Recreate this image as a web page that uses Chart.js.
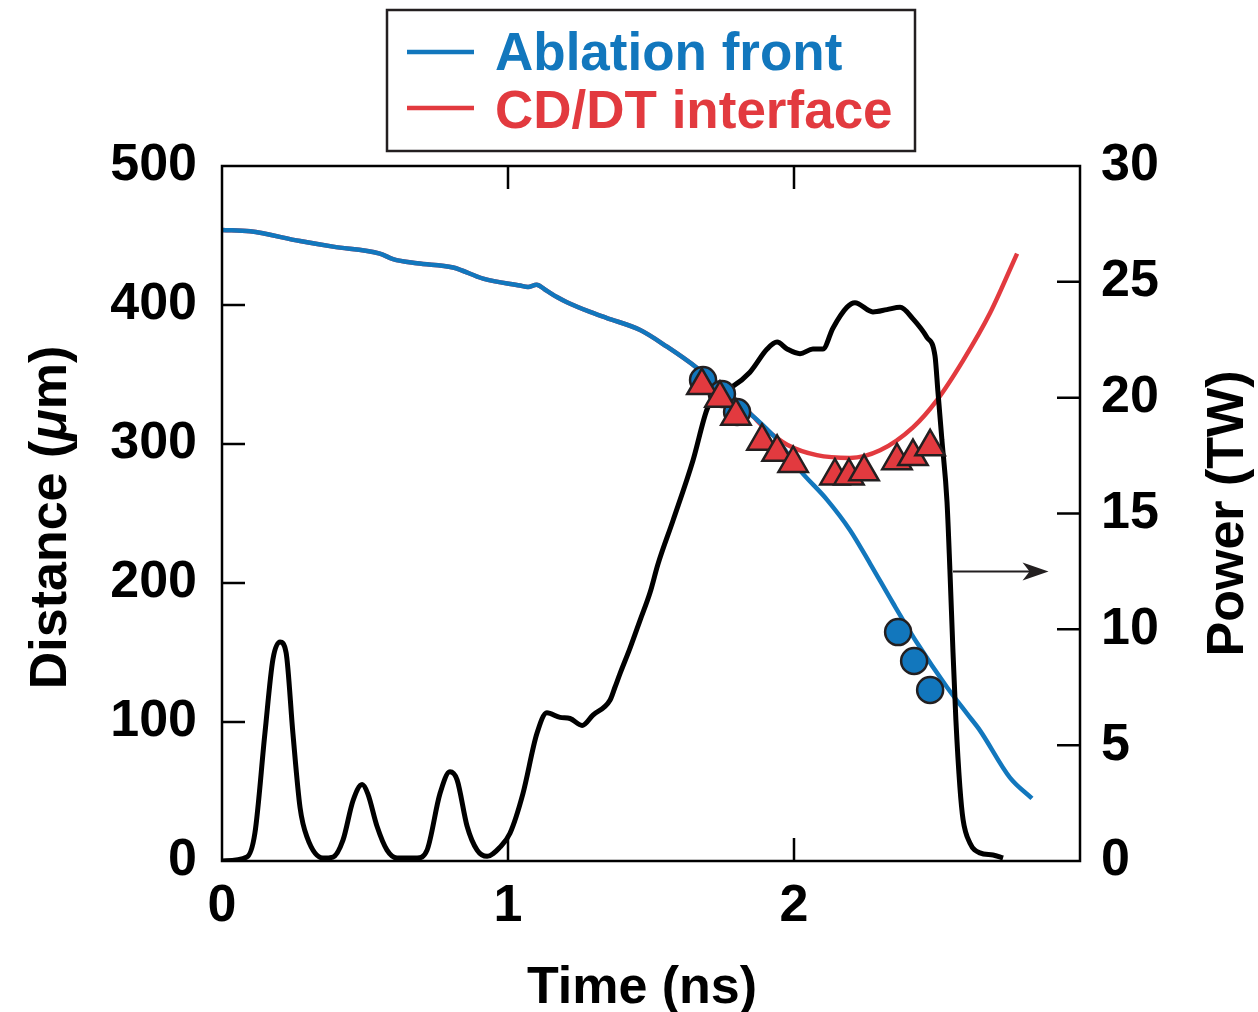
<!DOCTYPE html>
<html>
<head>
<meta charset="utf-8">
<script src="https://cdn.jsdelivr.net/npm/chart.js@4.4.1/dist/chart.umd.min.js"></script>
<style>
  html, body { margin: 0; padding: 0; background: #fff; }
  canvas { display: block; }
</style>
</head>
<body>
<canvas id="chart" width="1258" height="1012"></canvas>
<script>
// ---- data ----
// laser pulse power (TW) vs time (ns), right axis
const powerTime = [0.000, 0.087, 0.115, 0.150, 0.178, 0.203, 0.224, 0.248, 0.273, 0.297, 0.353, 0.388, 0.423, 0.458, 0.490, 0.510,
  0.542, 0.577, 0.612, 0.682, 0.717, 0.762, 0.797, 0.822, 0.857, 0.892, 0.927, 0.972, 1.007, 1.052, 1.101, 1.136, 1.182, 1.217,
  1.259, 1.297, 1.357, 1.374, 1.392, 1.427, 1.462, 1.497, 1.524, 1.577, 1.647, 1.696, 1.731, 1.787, 1.846, 1.906, 1.941, 1.976,
  2.021, 2.066, 2.101, 2.136, 2.185, 2.213, 2.276, 2.325, 2.371, 2.416, 2.465, 2.493, 2.503, 2.517, 2.535, 2.545, 2.556, 2.566,
  2.580, 2.591, 2.615, 2.650, 2.696, 2.731];
const powerTW = [0.0, 0.17, 1.2, 5.5, 8.7, 9.45, 9.0, 5.5, 2.3, 1.04, 0.13, 0.17, 0.9, 2.6, 3.3, 2.9,
  1.5, 0.47, 0.13, 0.13, 0.47, 2.9, 3.85, 3.5, 1.5, 0.47, 0.2, 0.6, 1.2, 2.9, 5.5, 6.4, 6.2, 6.15,
  5.85, 6.3, 6.95, 7.5, 8.1, 9.2, 10.4, 11.6, 12.8, 14.7, 17.3, 19.5, 20.2, 20.5, 21.1, 22.1, 22.4, 22.1,
  21.9, 22.1, 22.1, 23.0, 23.9, 24.1, 23.7, 23.8, 23.9, 23.4, 22.6, 21.8, 20.3, 18.2, 15.5, 12.6, 9.0, 6.1,
  3.2, 1.8, 0.78, 0.35, 0.26, 0.13];

// simulated ablation front (um)
const ablationTime = [0.000, 0.098, 0.273, 0.388, 0.552, 0.598, 0.682, 0.808, 0.913, 1.042, 1.070, 1.100, 1.130, 1.171, 1.206,
  1.287, 1.346, 1.462, 1.556, 1.661, 1.846, 1.941, 2.021, 2.115, 2.196, 2.266, 2.346, 2.430, 2.535, 2.605, 2.650, 2.755, 2.832];
const ablationDist = [454, 453, 446, 442, 437, 433, 430, 427, 419, 414, 413, 414.5, 411, 405.7, 402,
  395, 390.6, 382, 370, 354.7, 322, 303, 281, 260, 238, 214, 185.6, 157, 125, 106, 94, 60, 45];

// simulated CD/DT interface (um)
const interfaceTime = [0.000, 0.098, 0.273, 0.388, 0.552, 0.598, 0.682, 0.808, 0.913, 1.042, 1.070, 1.100, 1.130, 1.171, 1.206,
  1.287, 1.346, 1.462, 1.556, 1.661, 1.846, 1.900, 1.976, 2.080, 2.196, 2.301, 2.416, 2.500, 2.591, 2.685, 2.780];
const interfaceDist = [454, 453, 446, 442, 437, 433, 430, 427, 419, 414, 413, 414.5, 411, 405.7, 402,
  395, 390.6, 382, 370, 354.7, 322, 311, 299.5, 292, 290, 295.5, 312, 331.6, 360, 394, 437];

// measured ablation front (circles)
const ablationObsTime = [1.682, 1.748, 1.801, 2.364, 2.420, 2.476];
const ablationObsDist = [346, 336, 323, 164.7, 143.9, 123];

// measured interface (triangles)
const interfaceObsTime = [1.678, 1.741, 1.797, 1.888, 1.941, 1.997, 2.143, 2.192, 2.245, 2.360, 2.416, 2.476];
const interfaceObsDist = [342, 333, 320, 302, 294, 286, 277, 277, 280, 288, 291, 298];

const xTickLabels = [0, 1, 2];
const legendLabels = ['Ablation front', 'CD/DT interface'];

// arrow pointing to the power axis: [t0, t1] at the given power level
const arrowTime = [2.556, 2.89];
const arrowPower = 12.5;

const BLUE = '#1277bd';
const RED = '#e23a3f';
const EDGE = '#231f20';
const FONT = '"Liberation Sans", Arial, Helvetica, sans-serif';

const pairs = (xs, ys) => xs.map((x, i) => ({ x, y: ys[i] }));

// frame, inward ticks, axis titles, arrow and legend box
const decor = {
  id: 'decor',
  afterDraw(chart) {
    const { ctx, chartArea: a, scales } = chart;
    const tick = 23;
    ctx.save();
    ctx.strokeStyle = '#000';
    ctx.lineWidth = 2.5;
    ctx.strokeRect(a.left, a.top, a.right - a.left, a.bottom - a.top);

    ctx.beginPath();
    scales.x.ticks.forEach(t => {
      if (t.value <= scales.x.min || t.value >= scales.x.max) return;
      const px = scales.x.getPixelForValue(t.value);
      ctx.moveTo(px, a.bottom); ctx.lineTo(px, a.bottom - tick);
      ctx.moveTo(px, a.top); ctx.lineTo(px, a.top + tick);
    });
    scales.y.ticks.forEach(t => {
      if (t.value <= scales.y.min || t.value >= scales.y.max) return;
      const py = scales.y.getPixelForValue(t.value);
      ctx.moveTo(a.left, py); ctx.lineTo(a.left + tick, py);
    });
    scales.y1.ticks.forEach(t => {
      if (t.value <= scales.y1.min || t.value >= scales.y1.max) return;
      const py = scales.y1.getPixelForValue(t.value);
      ctx.moveTo(a.right, py); ctx.lineTo(a.right - tick, py);
    });
    ctx.stroke();

    // arrow
    const ay = scales.y1.getPixelForValue(arrowPower);
    const ax0 = scales.x.getPixelForValue(arrowTime[0]);
    const ax1 = scales.x.getPixelForValue(arrowTime[1]);
    ctx.strokeStyle = EDGE;
    ctx.fillStyle = EDGE;
    ctx.lineWidth = 2;
    ctx.beginPath();
    ctx.moveTo(ax0, ay); ctx.lineTo(ax1 - 10, ay);
    ctx.stroke();
    ctx.beginPath();
    ctx.moveTo(ax1, ay);
    ctx.lineTo(ax1 - 26, ay - 9);
    ctx.lineTo(ax1 - 19, ay);
    ctx.lineTo(ax1 - 26, ay + 9);
    ctx.closePath();
    ctx.fill();

    // axis titles
    ctx.fillStyle = '#000';
    ctx.textBaseline = 'alphabetic';
    ctx.textAlign = 'center';
    ctx.font = `bold 52px ${FONT}`;
    ctx.fillText('Time (ns)', 642, 1003);

    ctx.save();
    ctx.translate(1243, (a.top + a.bottom) / 2);
    ctx.rotate(-Math.PI / 2);
    ctx.fillText('Power (TW)', 0, 0);
    ctx.restore();

    const parts = [['Distance (', 'bold'], ['\u03bc', 'italic bold'], ['m)', 'bold']];
    let total = 0;
    const widths = parts.map(([s, f]) => {
      ctx.font = `${f} 52px ${FONT}`;
      const w = ctx.measureText(s).width;
      total += w;
      return w;
    });
    ctx.save();
    ctx.translate(66, (a.top + a.bottom) / 2 + 4);
    ctx.rotate(-Math.PI / 2);
    ctx.textAlign = 'left';
    let x = -total / 2;
    parts.forEach(([s, f], i) => {
      ctx.font = `${f} 52px ${FONT}`;
      ctx.fillText(s, x, 0);
      x += widths[i];
    });
    ctx.restore();

    // legend box
    ctx.strokeStyle = EDGE;
    ctx.lineWidth = 2.5;
    ctx.strokeRect(387, 10, 528, 141);
    ctx.textAlign = 'left';
    ctx.font = `bold 53px ${FONT}`;
    [[BLUE, 52, 70], [RED, 108, 128]].forEach(([c, ly, by], i) => {
      ctx.strokeStyle = c;
      ctx.lineWidth = 4.5;
      ctx.beginPath();
      ctx.moveTo(407, ly); ctx.lineTo(474, ly);
      ctx.stroke();
      ctx.fillStyle = c;
      ctx.fillText(legendLabels[i], 495, by);
    });
    ctx.restore();
  }
};

const tickFont = { family: FONT, size: 52, weight: 'bold' };

new Chart(document.getElementById('chart'), {
  type: 'line',
  data: {
    datasets: [
      {
        label: 'CD/DT interface (measured)',
        data: pairs(interfaceObsTime, interfaceObsDist),
        yAxisID: 'y', showLine: false, order: 0,
        pointStyle: 'triangle', pointRadius: 17, pointBackgroundColor: RED,
        pointBorderColor: EDGE, pointBorderWidth: 2.5
      },
      {
        label: 'Ablation front (measured)',
        data: pairs(ablationObsTime, ablationObsDist),
        yAxisID: 'y', showLine: false, order: 1,
        pointStyle: 'circle', pointRadius: 13, pointBackgroundColor: BLUE,
        pointBorderColor: EDGE, pointBorderWidth: 2.5
      },
      {
        label: 'Power',
        data: pairs(powerTime, powerTW),
        yAxisID: 'y1', order: 2,
        borderColor: '#000', borderWidth: 5, pointRadius: 0,
        cubicInterpolationMode: 'monotone'
      },
      {
        label: legendLabels[0],
        data: pairs(ablationTime, ablationDist),
        yAxisID: 'y', order: 3,
        borderColor: BLUE, borderWidth: 4.5, pointRadius: 0,
        cubicInterpolationMode: 'monotone'
      },
      {
        label: legendLabels[1],
        data: pairs(interfaceTime, interfaceDist),
        yAxisID: 'y', order: 4,
        borderColor: RED, borderWidth: 4.5, pointRadius: 0,
        cubicInterpolationMode: 'monotone'
      }
    ]
  },
  options: {
    responsive: false,
    animation: false,
    layout: { padding: { top: 166, left: 0, right: 0, bottom: 0 } },
    plugins: { legend: { display: false }, tooltip: { enabled: false } },
    scales: {
      x: {
        type: 'linear', position: 'bottom', min: 0, max: 3,
        grid: { display: false, drawTicks: false }, border: { display: false },
        ticks: {
          stepSize: 1, autoSkip: false, maxRotation: 0, padding: 14,
          color: '#000', font: tickFont,
          callback: v => xTickLabels.includes(v) ? String(v) : ''
        },
        afterFit: s => { s.height = 151; }
      },
      y: {
        type: 'linear', position: 'left', min: 0, max: 500,
        grid: { display: false, drawTicks: false }, border: { display: false },
        ticks: { stepSize: 100, padding: 25, color: '#000', font: tickFont },
        afterFit: s => { s.width = 222; }
      },
      y1: {
        type: 'linear', position: 'right', min: 0, max: 30,
        grid: { display: false, drawTicks: false }, border: { display: false },
        ticks: { stepSize: 5, padding: 21, color: '#000', font: tickFont },
        afterFit: s => { s.width = 178; }
      }
    }
  },
  plugins: [decor]
});
</script>
</body>
</html>
